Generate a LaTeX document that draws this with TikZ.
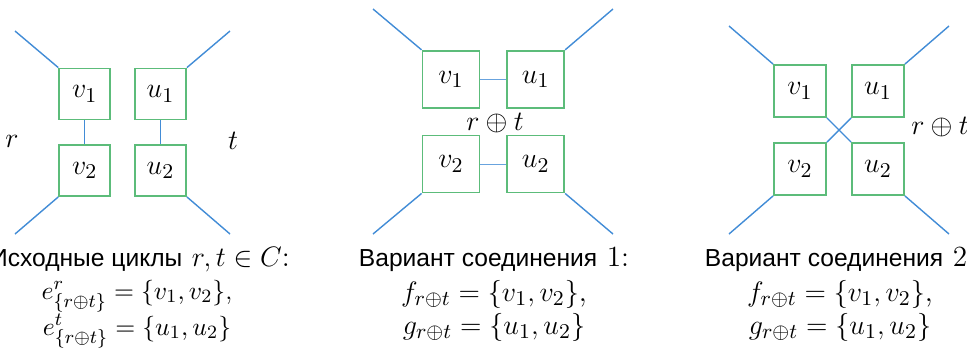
\documentclass[tikz,border=0pt]{standalone}
\usepackage{amsmath}
\usepackage{amssymb}
\usepackage{fontspec}
\newfontfamily\cyr[Scale=0.84]{Liberation Sans}
\definecolor{boxgreen}{RGB}{92,188,122}
\definecolor{edgeblue}{RGB}{66,140,214}

\begin{document}
\begin{tikzpicture}[x=0.015cm,y=-0.015cm,
  vbox/.style={draw=boxgreen, line width=0.8pt, minimum size=0.765cm, inner sep=0pt,
    font=\fontsize{12.5}{13}\selectfont},
  vboxbig/.style={vbox, minimum size=0.855cm},
  vboxmid/.style={vbox, minimum size=0.78cm},
  edge/.style={edgeblue, line width=0.6pt},
  thinedge/.style={edgeblue!80, line width=0.4pt},
  side/.style={font=\fontsize{12.5}{13}\selectfont},
  capt/.style={anchor=base, font=\fontsize{12.5}{14}\selectfont},
  captsmall/.style={capt, font=\fontsize{11}{13}\selectfont}]
\useasboundingbox (0,0) rectangle (967,349);

% Panel 1: initial cycles r and t
\node[vbox] (v1a) at (84.7,94) {$v_1$};
\node[vbox] (u1a) at (160.5,94) {$u_1$};
\node[vbox] (v2a) at (84.7,170.5) {$v_2$};
\node[vbox] (u2a) at (160.5,170.5) {$u_2$};
\coordinate (tla) at (15,31);
\coordinate (tra) at (230,31);
\coordinate (bla) at (15,234);
\coordinate (bra) at (230,234);
\draw[edge] (v1a.north west) -- (tla);
\draw[edge] (u1a.north east) -- (tra);
\draw[edge] (v2a.south west) -- (bla);
\draw[edge] (u2a.south east) -- (bra);
\draw[edge] (v1a) -- (v2a);
\draw[edge] (u1a) -- (u2a);
\node[side] (ra) at (12,141) {$r$};
\node[side] (ta) at (233,141) {$t$};

% Panel 2: first way to join
\node[vboxbig] (v1b) at (451,79.3) {$v_1$};
\node[vboxbig] (u1b) at (535.7,79.3) {$u_1$};
\node[vboxbig] (v2b) at (451,164) {$v_2$};
\node[vboxbig] (u2b) at (535.7,164) {$u_2$};
\coordinate (tlb) at (373,9);
\coordinate (trb) at (613,9);
\coordinate (blb) at (373,234);
\coordinate (brb) at (613,234);
\draw[edge] (v1b.north west) -- (tlb);
\draw[edge] (u1b.north east) -- (trb);
\draw[edge] (v2b.south west) -- (blb);
\draw[edge] (u2b.south east) -- (brb);
\draw[thinedge] (v1b) -- (u1b);
\draw[thinedge] (v2b) -- (u2b);
\node[side] (rtb) at (495,123) {$r\oplus t$};

% Panel 3: second way to join
\node[vboxmid] (v1c) at (800,91) {$v_1$};
\node[vboxmid] (u1c) at (878,91) {$u_1$};
\node[vboxmid] (v2c) at (800,169) {$v_2$};
\node[vboxmid] (u2c) at (878,169) {$u_2$};
\coordinate (tlc) at (729,26);
\coordinate (trc) at (949,26);
\coordinate (blc) at (729,234);
\coordinate (brc) at (949,234);
\draw[edge] (v1c.north west) -- (tlc);
\draw[edge] (u1c.north east) -- (trc);
\draw[edge] (v2c.south west) -- (blc);
\draw[edge] (u2c.south east) -- (brc);
\draw[edge] (v1c.south east) -- (u2c.north west);
\draw[edge] (u1c.south west) -- (v2c.north east);
\node[side] (rtc) at (940,127) {$r\oplus t$};

% Captions
\node[capt] (c1a) at (140,266) {{\cyr Исходные циклы} $r,t\in C$:};
\node[captsmall] (c1b) at (137,299) {$e^{r}_{\{r\oplus t\}}=\{v_1,v_2\}$,};
\node[captsmall] (c1c) at (137,335) {$e^{t}_{\{r\oplus t\}}=\{u_1,u_2\}$};
\node[capt] (c2a) at (494,266) {{\cyr Вариант соединения} 1:};
\node[capt] (c2b) at (494,301) {$f_{r\oplus t}=\{v_1,v_2\}$,};
\node[capt] (c2c) at (494,334) {$g_{r\oplus t}=\{u_1,u_2\}$};
\node[capt] (c3a) at (840,266) {{\cyr Вариант соединения} 2:};
\node[capt] (c3b) at (840,301) {$f_{r\oplus t}=\{v_1,v_2\}$,};
\node[capt] (c3c) at (840,334) {$g_{r\oplus t}=\{u_1,u_2\}$};
\end{tikzpicture}
\end{document}
